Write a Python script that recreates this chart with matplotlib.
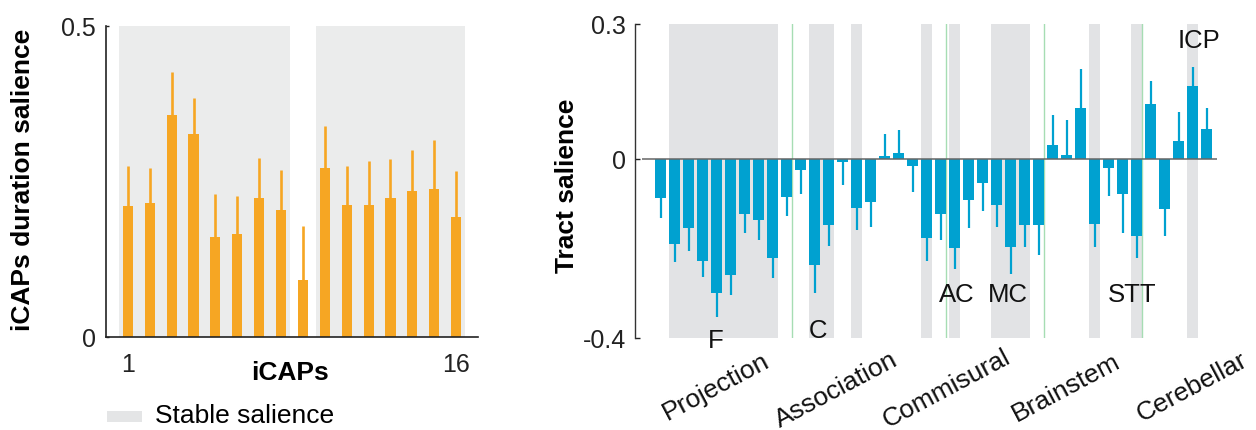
import matplotlib
matplotlib.use("Agg")
import matplotlib.pyplot as plt
from matplotlib.patches import Rectangle
import numpy as np

plt.rcParams['font.family'] = ['Liberation Sans', 'DejaVu Sans']

# ---------------- data ----------------
icap_ids = list(range(1, 17))
icap_salience = [0.210, 0.215, 0.357, 0.326, 0.161, 0.165, 0.223, 0.203,
                 0.091, 0.272, 0.212, 0.212, 0.223, 0.235, 0.237, 0.192]
icap_error = [0.065, 0.056, 0.068, 0.057, 0.068, 0.061, 0.065, 0.065,
              0.087, 0.067, 0.062, 0.071, 0.063, 0.065, 0.080, 0.075]
icap_stable_groups = [(1, 8), (10, 16)]
icap_ticks = [1, 16]

tract_salience = [-0.089, -0.190, -0.155, -0.229, -0.299, -0.259, -0.123, -0.138, -0.222, -0.086,
                  -0.026, -0.238, -0.149, -0.007, -0.110, -0.097, 0.005, 0.013, -0.017, -0.176,
                  -0.124, -0.199, -0.093, -0.054, -0.103, -0.197, -0.149, -0.147, 0.030, 0.009,
                  0.112, -0.145, -0.020, -0.080, -0.173, 0.122, -0.113, 0.040, 0.161, 0.065]
tract_error = [0.043, 0.041, 0.052, 0.035, 0.054, 0.045, 0.043, 0.044, 0.044, 0.043,
               0.052, 0.061, 0.046, 0.053, 0.050, 0.055, 0.049, 0.050, 0.057, 0.052,
               0.057, 0.048, 0.061, 0.063, 0.050, 0.060, 0.048, 0.067, 0.068, 0.078,
               0.088, 0.052, 0.063, 0.086, 0.049, 0.052, 0.060, 0.063, 0.044, 0.048]
tract_stable_groups = [(2, 9), (12, 13), (15, 15), (20, 20), (22, 22), (25, 27),
                       (32, 32), (35, 35), (39, 39)]
tract_group_ends = [10, 21, 28, 35]
tract_categories = ['Projection', 'Association', 'Commisural', 'Brainstem', 'Cerebellar']
tract_names = ['F', 'C', 'AC', 'MC', 'STT', 'ICP']
tract_yticks = [-0.4, 0, 0.3]
tract_yticklabels = ['-0.4', '0', '0.3']

# ---------------- style ----------------
W, H = 1256, 431
ORANGE = '#F6A623'
BLUE = '#00A1D0'
SHADE_L = '#EBECEC'
SHADE_R = '#E2E3E5'
GREEN = '#A6DDB3'
FS_TICK = 18
FS = 19
FSB = 19


def fx(px):
    return px / W


def fy(py):
    return 1 - py / H


fig = plt.figure(figsize=(W / 100, H / 100), dpi=100)

# ---------------- left panel ----------------
ax1 = fig.add_axes([fx(106), fy(337.7), 372 / W, 311 / H])
for a, b in icap_stable_groups:
    ax1.axvspan(a - 0.42, b + 0.42, color=SHADE_L, lw=0, zorder=0)
x1 = np.array(icap_ids)
v1 = np.array(icap_salience)
e1 = np.array(icap_error)
ax1.bar(x1, v1, width=0.46, color=ORANGE, lw=0, zorder=2)
ax1.vlines(x1, v1, v1 + e1, color=ORANGE, lw=1.9, zorder=2)
ax1.set_xlim(0, 17)
ax1.set_ylim(0, 0.5)
for s in ['top', 'right']:
    ax1.spines[s].set_visible(False)
for s in ['left', 'bottom']:
    ax1.spines[s].set_color('#222222')
    ax1.spines[s].set_linewidth(1.2)
ax1.set_yticks([0, 0.5])
ax1.set_yticklabels(['0', '0.5'])
ax1.set_xticks(icap_ticks)
ax1.set_xticklabels([str(t) for t in icap_ticks])
ax1.tick_params(axis='y', direction='in', length=2.5, width=1, labelsize=FS_TICK, pad=7.5, colors='#222222')
ax1.tick_params(axis='x', length=0, labelsize=FS_TICK, pad=11, colors='#222222')

fig.text(fx(23.5), fy(180), 'iCAPs duration salience', rotation=90, ha='center', va='center',
         fontsize=FSB, fontweight='bold')
fig.text(fx(290), fy(380), 'iCAPs', ha='center', va='baseline', fontsize=FSB, fontweight='bold')

# legend
fig.patches.append(Rectangle((fx(107), fy(423)), 35 / W, 11 / H, transform=fig.transFigure,
                             facecolor='#E4E5E6', edgecolor='none'))
fig.text(fx(155), fy(423.5), 'Stable salience', ha='left', va='baseline', fontsize=FS)

# ---------------- right panel ----------------
ax2 = fig.add_axes([fx(642), fy(339), 575 / W, 314 / H])
for a, b in tract_stable_groups:
    ax2.axvspan(a - 0.42, b + 0.38, color=SHADE_R, lw=0, zorder=0)
for g in tract_group_ends:
    ax2.axvline(g + 0.4, color=GREEN, lw=1, zorder=1)
x2 = np.arange(1, len(tract_salience) + 1)
v2 = np.array(tract_salience)
e2 = np.array(tract_error)
ax2.bar(x2, v2, width=0.8, color=BLUE, lw=0, zorder=2)
ax2.vlines(x2, v2, v2 + np.sign(v2) * e2, color=BLUE, lw=1.6, zorder=2)
ax2.axhline(0, color='#666666', lw=1.1, zorder=3)
ax2.set_xlim(-0.34, 40.74)
ax2.set_ylim(-0.4, 0.3)
for s in ['top', 'right', 'bottom']:
    ax2.spines[s].set_visible(False)
ax2.spines['left'].set_position(('outward', 5))
ax2.spines['left'].set_color('#333333')
ax2.spines['left'].set_linewidth(1.0)
ax2.set_xticks([])
ax2.set_yticks(tract_yticks)
ax2.set_yticklabels(tract_yticklabels)
ax2.tick_params(axis='y', direction='in', length=3.6, width=1, labelsize=FS_TICK, pad=6.5, colors='#222222')

fig.text(fx(567), fy(186), 'Tract salience', rotation=90, ha='center', va='center',
         fontsize=FSB, fontweight='bold')

# tract name annotations (pixel positions of reference)
name_pos = [(716, 348), (818, 338), (957, 302), (1008, 302), (1132, 302), (1199, 48)]
for name, (px, py) in zip(tract_names, name_pos):
    fig.text(fx(px), fy(py), name, ha='center', va='baseline', fontsize=18.5, color='#111111')

# category labels
cat_pos = [(716, 387), (836, 390), (947, 389), (1066, 388), (1192, 387)]
for cat, (px, py) in zip(tract_categories, cat_pos):
    fig.text(fx(px), fy(py), cat, ha='center', va='center', rotation=28,
             rotation_mode='anchor', fontsize=FS, color='#111111')

fig.savefig('out.png', dpi=100)
